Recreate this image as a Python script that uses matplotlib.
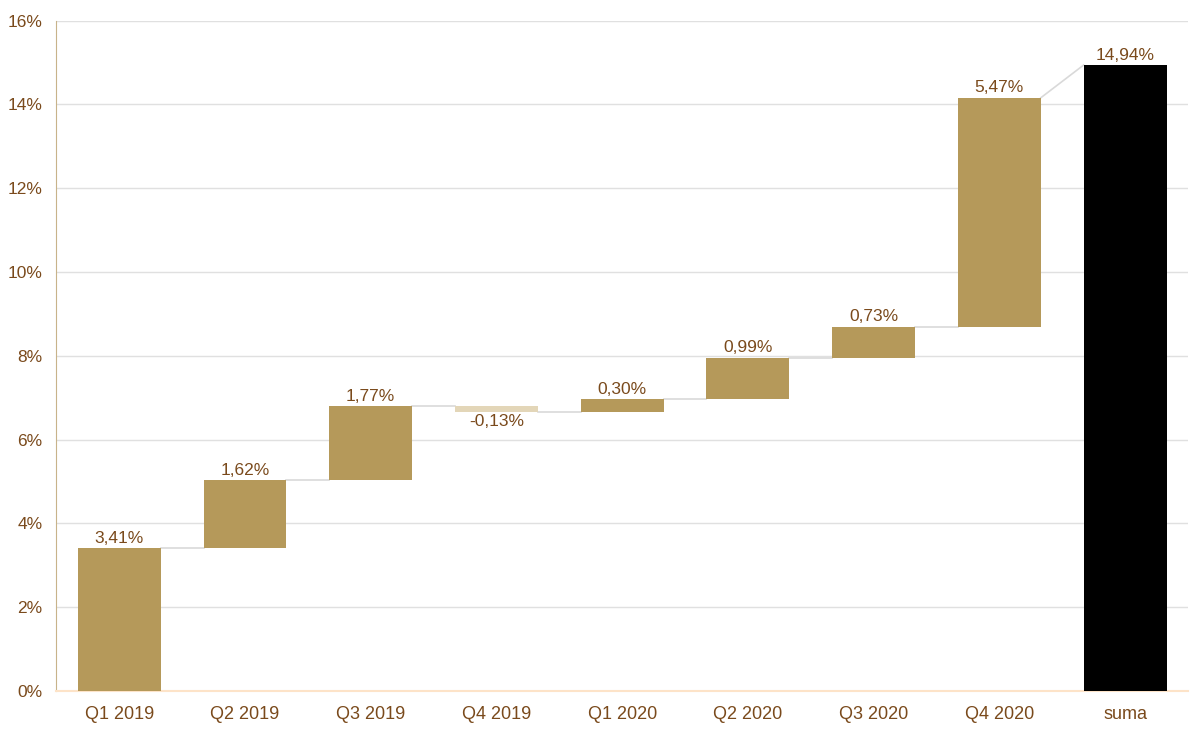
import numpy as np
import matplotlib.pyplot as plt

plt.rcParams['font.family'] = ['Liberation Sans', 'DejaVu Sans']

categories = ['Q1 2019', 'Q2 2019', 'Q3 2019', 'Q4 2019', 'Q1 2020',
              'Q2 2020', 'Q3 2020', 'Q4 2020', 'suma']
changes = [3.41, 1.62, 1.77, -0.13, 0.30, 0.99, 0.73, 5.47]
total = 14.94

pos_color = '#b5995a'
neg_color = '#e3d6b8'
text_color = '#7a4a1c'
conn_color = '#d9d9d9'

# running totals for the waterfall
ends = np.cumsum(changes)
starts = ends - np.array(changes)

fig, ax = plt.subplots(figsize=(12, 7.36), dpi=100)
fig.subplots_adjust(left=0.047, right=0.99, top=0.972, bottom=0.061)

x = np.arange(len(categories))
w = 0.66
fs = 12.5

for i, (s, c) in enumerate(zip(starts, changes)):
    col = pos_color if c >= 0 else neg_color
    ax.bar(x[i], c, bottom=s, width=w, color=col, zorder=3)
    lbl = f'{c:.2f}%'.replace('.', ',')
    if c >= 0:
        ax.text(x[i], s + c + 0.06, lbl, ha='center', va='bottom',
                color=text_color, fontsize=fs)
    else:
        ax.text(x[i], s + c - 0.06, lbl, ha='center', va='top',
                color=text_color, fontsize=fs)

ax.bar(x[-1], total, width=w, color='black', zorder=3)
ax.text(x[-1], total + 0.06, f'{total:.2f}%'.replace('.', ','),
        ha='center', va='bottom', color=text_color, fontsize=fs)

# connector lines
for i in range(len(changes) - 1):
    ax.plot([x[i] + w / 2, x[i + 1] - w / 2], [ends[i], ends[i]],
            color=conn_color, lw=1.2, zorder=2)
ax.plot([x[-2] + w / 2, x[-1] - w / 2], [ends[-1], total],
        color=conn_color, lw=1.2, zorder=2)

ax.set_xlim(-0.5, len(categories) - 0.5)
ax.set_ylim(0, 16)
ax.set_yticks(np.arange(0, 17, 2))
ax.set_yticklabels([f'{v}%' for v in range(0, 17, 2)])
ax.set_xticks(x)
ax.set_xticklabels(categories)
ax.tick_params(axis='both', colors=text_color, labelsize=fs, length=0)
ax.tick_params(axis='x', pad=11, labelsize=13)
ax.tick_params(axis='y', pad=10)
ax.yaxis.grid(True, color='#e0e0e0', lw=1, zorder=0)
ax.set_axisbelow(True)

for side in ['top', 'right']:
    ax.spines[side].set_visible(False)
ax.spines['left'].set_color('#c8b38a')
ax.spines['bottom'].set_color('#fde3c8')
ax.spines['bottom'].set_linewidth(1.5)

plt.savefig('out.png')
